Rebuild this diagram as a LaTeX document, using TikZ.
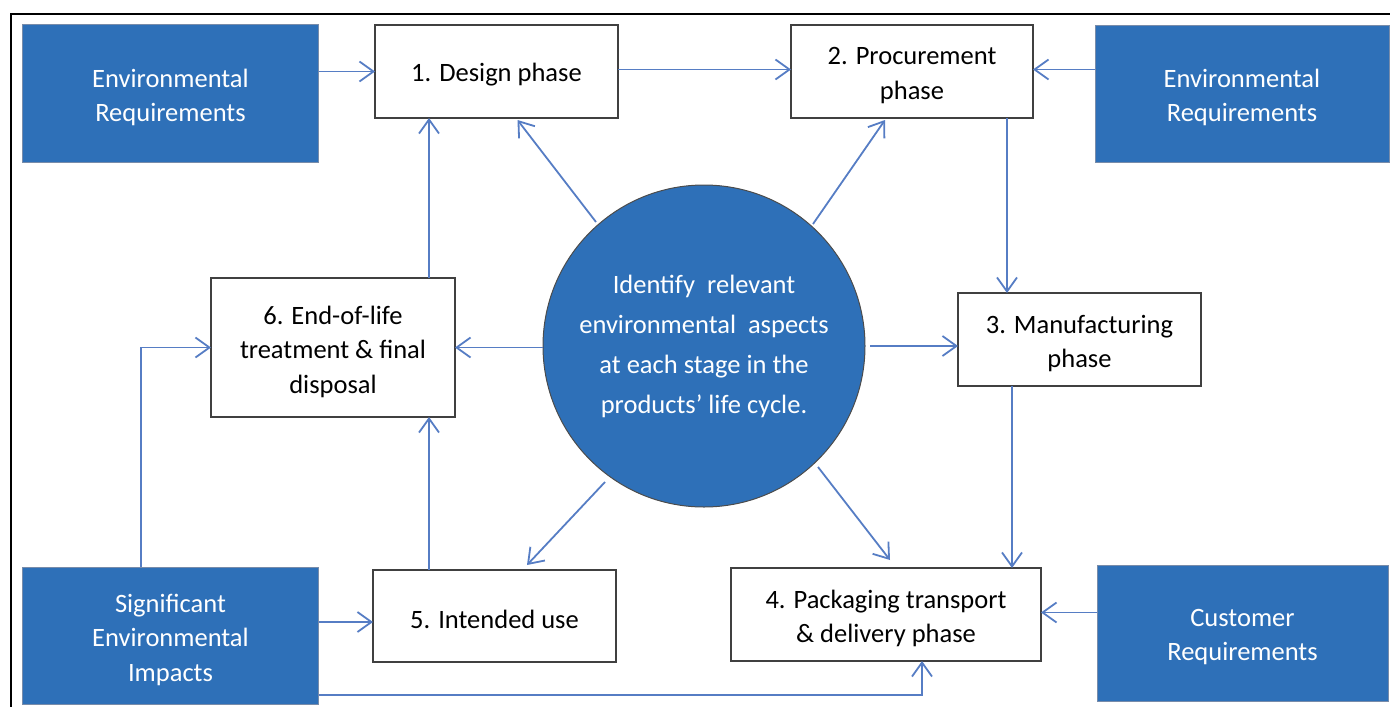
\documentclass[tikz,border=0pt]{standalone}
\usepackage{fontspec}
\setmainfont{Carlito}
\usetikzlibrary{arrows.meta,calc}
\definecolor{boxblue}{RGB}{46,112,184}
\definecolor{boxedge}{RGB}{120,140,170}
\definecolor{arrowblue}{RGB}{86,125,196}
\begin{document}
\begin{tikzpicture}[x=1pt,y=-1pt,
  every node/.style={inner sep=0pt,outer sep=0pt,align=center,font=\fontsize{26.5}{34.5}\selectfont},
  txtblk/.style={yshift=-4pt,text=black},
  txtwht/.style={yshift=-4pt,text=white},
  bluebox/.style={rectangle,fill=boxblue,draw=boxedge,line width=1pt},
  phasebox/.style={rectangle,fill=white,draw=black!75,line width=1.2pt},
  conn/.style={draw=arrowblue,line width=1.8pt,-{Straight Barb[length=14pt,width=20pt,line width=1.8pt]}}]
\useasboundingbox (0,0) rectangle (1390,707);
\draw[line width=2pt,black] (11,707) -- (11,14) -- (1390,14);

\node[bluebox,minimum width=296pt,minimum height=138pt,label={[txtwht]center:{Environmental\\Requirements}}] (envL) at (170.5,93.5) {};
\node[phasebox,minimum width=243pt,minimum height=93pt,label={[txtblk,yshift=1pt]center:{1. Design phase}}] (design) at (496.5,71.5) {};
\node[phasebox,minimum width=242pt,minimum height=93pt,label={[txtblk]center:{2. Procurement\\phase}}] (proc) at (912,71.5) {};
\node[bluebox,minimum width=294pt,minimum height=137pt,label={[txtwht]center:{Environmental\\Requirements}}] (envR) at (1242,93.5) {};
\node[circle,fill=boxblue,draw=black!70,line width=1pt,minimum size=322pt,text=white,
  font=\fontsize{26.5}{40}\selectfont] (circ) at (704,346)
  {Identify\ \ relevant\\environmental\ \ aspects\\at each stage in the\\products’ life cycle.};
\node[phasebox,minimum width=244pt,minimum height=139pt,label={[txtblk]center:{6. End-of-life\\treatment \& final\\disposal}}] (eol) at (333,347.5) {};
\node[phasebox,minimum width=243pt,minimum height=93pt,label={[txtblk]center:{3. Manufacturing\\phase}}] (manu) at (1079.5,339.5) {};
\node[phasebox,minimum width=243pt,minimum height=92pt,label={[txtblk,yshift=1pt]center:{5. Intended use}}] (use) at (494.5,616) {};
\node[phasebox,minimum width=310pt,minimum height=93pt,label={[txtblk]center:{4. Packaging transport\\\& delivery phase}}] (pack) at (886,614.5) {};
\node[bluebox,minimum width=296pt,minimum height=137pt,label={[txtwht]center:{Significant\\Environmental\\Impacts}}] (sig) at (170.5,635.5) {};
\node[bluebox,minimum width=291pt,minimum height=136pt,label={[txtwht]center:{Customer\\Requirements}}] (cust) at (1242.5,633) {};

% top row
\draw[conn] (envL.east |- design.west) -- (design.west);
\draw[conn] ([yshift=2pt]design.east) -- ([yshift=2pt]proc.west);
\draw[conn] ([yshift=2pt]envR.west |- proc.east) -- ([yshift=2pt]proc.east);
\draw[conn] ([xshift=95pt]proc.south) -- ([xshift=95pt]proc.south |- manu.north);
% from circle
\draw[conn] ($(circ)+(-108,-124)$) -- ([xshift=21pt,yshift=-2pt]design.south);
\draw[conn] ($(circ)+(109,-122)$) -- ([xshift=-27pt,yshift=-2pt]proc.south);
\draw[conn] (circ.west |- eol.east) -- (eol.east);
\draw[conn] ([xshift=5pt]circ.east) -- (circ.east -| manu.west);
\draw[conn] ($(circ)+(114,121)$) -- ([xshift=4pt,yshift=8pt]pack.north);
\draw[conn] ($(circ)+(-99,136)$) -- ([xshift=32.5pt,yshift=5pt]use.north);
% vertical links
\draw[conn] ([xshift=96pt]eol.north) -- ([xshift=96pt]eol.north |- design.south);
\draw[conn] ([xshift=-67.5pt]manu.south) -- ([xshift=-67.5pt]manu.south |- pack.north);
\draw[conn] ([xshift=-65.5pt]use.north) -- ([xshift=-65.5pt]use.north |- eol.south);
% from significant impacts
\draw[conn] ([xshift=-29.5pt]sig.north) |- (eol.west);
\draw[conn] ([yshift=-6pt]sig.east |- use.west) -- ([yshift=-6pt]use.west);
\draw[conn] ([yshift=-59.5pt]sig.east) -| ([xshift=36pt]pack.south);
% customer
\draw[conn] ([yshift=2pt]cust.west |- pack.east) -- ([yshift=2pt]pack.east);
\end{tikzpicture}
\end{document}
